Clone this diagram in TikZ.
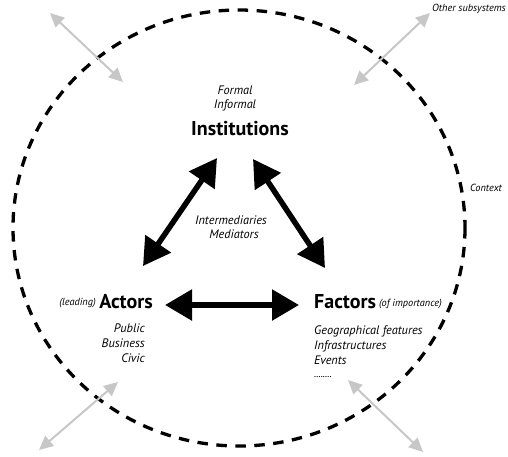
\documentclass[tikz,border=0pt]{standalone}
\usepackage{fontspec}
\setmainfont{PT Sans}
\usetikzlibrary{arrows.meta}
\begin{document}
\begin{tikzpicture}[x=1pt,y=-1pt,
  bigarrow/.style={line width=5.5pt,{Triangle[length=27pt,width=30pt]}-{Triangle[length=27pt,width=30pt]}},
  greyarrow/.style={line width=2pt,draw=black!22,{Triangle[length=14pt,width=13pt]}-{Triangle[length=14pt,width=13pt]}},
  smalltxt/.style={font=\itshape\fontsize{12.3}{14}\selectfont,inner sep=0pt},
  tinytxt/.style={font=\itshape\fontsize{10.3}{12}\selectfont,inner sep=0pt},
  bigtxt/.style={font=\bfseries\fontsize{20}{22}\selectfont,inner sep=0pt},
  midtxt/.style={font=\bfseries\fontsize{20}{22}\selectfont,inner sep=0pt}]
\useasboundingbox (0,0) rectangle (508,456);
\clip (0,0) rectangle (508,456);
\fill[white] (0,0) rectangle (508,456);
% context boundary
\draw[line width=3.3pt,dash pattern=on 10.5pt off 8.5pt] (239,228) ellipse [x radius=226, y radius=218];
% texts
\node[smalltxt] (formal) at (235,90) {Formal};
\node[smalltxt] (informal) at (235,105) {Informal};
\node[bigtxt] (inst) at (240,129) {Institutions};
\node[smalltxt] (inter) at (231,220) {Intermediaries};
\node[smalltxt] (med) at (234,234) {Mediators};
\node[midtxt,anchor=east] (actors) at (153,302) {Actors};
\node[tinytxt,anchor=east] (leading) at (96,303) {(leading)};
\node[smalltxt,anchor=east] (public) at (145,328) {Public};
\node[smalltxt,anchor=east] (business) at (145,343) {Business};
\node[smalltxt,anchor=east] (civic) at (145,358) {Civic};
\node[midtxt,anchor=west] (factors) at (314,302) {Factors};
\node[tinytxt,anchor=west] (ofimp) at (379,304) {(of importance)};
\node[smalltxt,anchor=west] (geo) at (314,331) {Geographical features};
\node[smalltxt,anchor=west] (infra) at (314,346) {Infrastructures};
\node[smalltxt,anchor=west] (events) at (314,360) {Events};
\node[tinytxt,anchor=west] (dots) at (314,377) {........};
\node[tinytxt,anchor=east] (other) at (506,9) {Other subsystems};
\node[tinytxt,anchor=west] (context) at (470,188) {Context};
% black arrow endpoints
\coordinate (iL) at (217,158);
\coordinate (aT) at (143,266);
\coordinate (iR) at (253,159);
\coordinate (fT) at (325,268);
\coordinate (aR) at (165,305);
\coordinate (fL) at (299,305);
\draw[bigarrow] (iL) -- (aT);
\draw[bigarrow] (iR) -- (fT);
\draw[bigarrow] (aR) -- (fL);
% grey arrows
\coordinate (g1a) at (50,13);
\coordinate (g1b) at (123,82);
\coordinate (g2a) at (430,13);
\coordinate (g2b) at (354,85);
\coordinate (g3a) at (118,382);
\coordinate (g3b) at (39,450);
\coordinate (g4a) at (348,380);
\coordinate (g4b) at (423,452);
\draw[greyarrow] (g1a) -- (g1b);
\draw[greyarrow] (g2a) -- (g2b);
\draw[greyarrow] (g3a) -- (g3b);
\draw[greyarrow] (g4a) -- (g4b);
\end{tikzpicture}
\end{document}
